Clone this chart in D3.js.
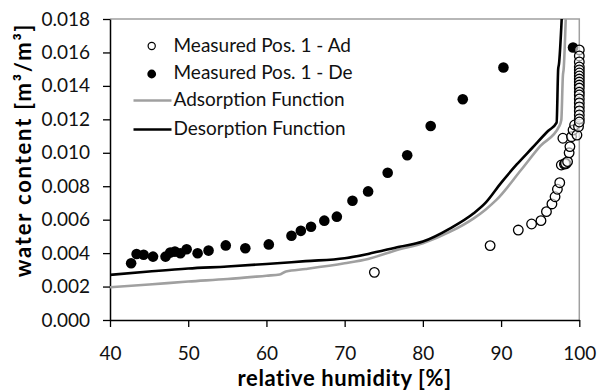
<!DOCTYPE html>
<html><head><meta charset="utf-8">
<script src="https://cdn.jsdelivr.net/npm/d3@7"></script>
<style>body{margin:0;background:#fff}svg{display:block}text{font-family:Lato,"Open Sans",sans-serif}</style>
</head><body><svg id="c" width="598" height="392"></svg>
<script>
// ---- data ----
const adsMeasRH = [73.8, 88.6, 92.2, 93.9, 95.1, 95.8, 96.5, 96.9, 97.2, 97.5, 97.7, 98.1, 98.3, 97.9, 98.2, 98.5, 98.7, 98.8, 99.0, 99.2, 99.4, 99.7, 99.9,
  100, 100, 100, 100, 100, 100, 100, 100, 100, 100, 100, 100, 100, 100, 100, 100, 100, 100, 100, 100];
const adsMeasW = [0.00285, 0.00445, 0.00538, 0.00574, 0.00594, 0.00648, 0.00694, 0.00737, 0.00782, 0.00821, 0.00927, 0.00932, 0.00935, 0.01087, 0.00937, 0.00947, 0.0100, 0.01037, 0.01096, 0.01136, 0.01166, 0.01106, 0.01156,
  0.01615, 0.01579, 0.01543, 0.01513, 0.01495, 0.01477, 0.01459, 0.01441, 0.01423, 0.01405, 0.01387, 0.01363, 0.01346, 0.01322, 0.01298, 0.01274, 0.0125, 0.01226, 0.01202, 0.01184];
const desMeasRH = [42.7, 43.4, 44.3, 45.5, 47.1, 47.7, 48.3, 49.0, 49.8, 51.2, 52.6, 54.8, 57.3, 60.3, 63.2, 64.4, 65.7, 67.4, 69.0, 71.0, 73.0, 75.5, 78.0, 81.0, 85.1, 90.3, 99.2];
const desMeasW = [0.00339, 0.00395, 0.0039, 0.00379, 0.00379, 0.00403, 0.00409, 0.00399, 0.00423, 0.00399, 0.00415, 0.00446, 0.00429, 0.00452, 0.00504, 0.00533, 0.00558, 0.00594, 0.00618, 0.00713, 0.00769, 0.00881, 0.00985, 0.0116, 0.0132, 0.0151, 0.0163];
const adsFnRH = [40, 45, 50, 55, 60, 61.7, 62.5, 65, 70, 73, 77, 80, 83.5, 86.5, 88, 89.4, 92.6, 95, 97.4, 97.7, 97.9, 98.0, 98.3];
const adsFnW = [0.00196, 0.00212, 0.0023, 0.00245, 0.00265, 0.00272, 0.0029, 0.00305, 0.00339, 0.00365, 0.00423, 0.00459, 0.00528, 0.00608, 0.0066, 0.00718, 0.009, 0.0104, 0.01156, 0.01196, 0.0146, 0.015, 0.0185];
const desFnRH = [40, 45, 50, 55, 60, 65, 70, 73, 77, 80, 83.5, 86.5, 88, 90, 92, 94, 96, 97.1, 97.3, 97.4, 97.8];
const desFnW = [0.0027, 0.0029, 0.00308, 0.0032, 0.00335, 0.00352, 0.00369, 0.00395, 0.00438, 0.00469, 0.00548, 0.00638, 0.007, 0.0082, 0.0093, 0.0103, 0.0113, 0.0118, 0.015, 0.0153, 0.0185];
const xTicks = [40, 50, 60, 70, 80, 90, 100];
const yTicks = [0, 0.002, 0.004, 0.006, 0.008, 0.010, 0.012, 0.014, 0.016, 0.018];
const legendLabels = ["Measured Pos. 1 - Ad", "Measured Pos. 1 - De", "Adsorption Function", "Desorption Function"];
const xTitle = "relative humidity [%]";
const yTitle = "water content [m³/m³]";

// ---- layout ----
const L = 110, R = 579.3, T = 19, B = 320;
const svg = d3.select("#c");
const x = d3.scaleLinear().domain([40, 100]).range([L, R]);
const y = d3.scaleLinear().domain([0, 0.018]).range([B, T]);

svg.append("defs").append("clipPath").attr("id", "clip")
  .append("rect").attr("x", L).attr("y", T).attr("width", R - L).attr("height", B - T);

// frame top/right gray
svg.append("path").attr("d", `M${L},${T}H${R}V${B}`).attr("fill", "none").attr("stroke", "#a0a0a0").attr("stroke-width", 1.5);

// axes
const xAxis = svg.append("g").attr("transform", `translate(0,${B})`)
  .call(d3.axisBottom(x).tickValues(xTicks).tickSize(7).tickSizeOuter(0).tickPadding(20));
const yAxis = svg.append("g").attr("transform", `translate(${L},0)`)
  .call(d3.axisLeft(y).tickValues(yTicks).tickFormat(d3.format(".3f")).tickSize(7).tickSizeOuter(0).tickPadding(13));
[xAxis, yAxis].forEach(g => {
  g.select(".domain").attr("stroke", "#000").attr("stroke-width", 1.5);
  g.selectAll(".tick line").attr("stroke", "#000").attr("stroke-width", 1.3);
  g.selectAll(".tick text").attr("fill", "#111").style("font-size", "19px").style("font-family", "Lato");
});

const plot = svg.append("g").attr("clip-path", "url(#clip)");
const line = d3.line().x(d => x(d[0])).y(d => y(d[1])).curve(d3.curveMonotoneX);
plot.append("path").datum(d3.zip(adsFnRH, adsFnW)).attr("d", line)
  .attr("fill", "none").attr("stroke", "#a0a0a0").attr("stroke-width", 2.6);
plot.append("path").datum(d3.zip(desFnRH, desFnW)).attr("d", line)
  .attr("fill", "none").attr("stroke", "#000").attr("stroke-width", 2.6);

const pts = svg.append("g");
pts.selectAll("circle.d").data(d3.zip(desMeasRH, desMeasW)).join("circle").attr("class", "d")
  .attr("cx", d => x(d[0])).attr("cy", d => y(d[1])).attr("r", 5.3).attr("fill", "#000");
pts.selectAll("circle.a").data(d3.zip(adsMeasRH, adsMeasW)).join("circle").attr("class", "a")
  .attr("cx", d => x(d[0])).attr("cy", d => y(d[1])).attr("r", 4.8)
  .attr("fill", "#fff").attr("fill-opacity", 0.6).attr("stroke", "#000").attr("stroke-width", 1.3);

// legend
const lg = svg.append("g");
const rowsY = [45, 72, 99.5, 128];
lg.append("circle").attr("cx", 151.7).attr("cy", rowsY[0] + 1).attr("r", 3.6).attr("fill", "#fff").attr("stroke", "#000").attr("stroke-width", 1.2);
lg.append("circle").attr("cx", 151.7).attr("cy", rowsY[1] + 2).attr("r", 4.4).attr("fill", "#000");
lg.append("line").attr("x1", 133.5).attr("x2", 171.5).attr("y1", rowsY[2] + 1).attr("y2", rowsY[2] + 1).attr("stroke", "#a0a0a0").attr("stroke-width", 2.6);
lg.append("line").attr("x1", 133.5).attr("x2", 171.5).attr("y1", rowsY[3] + 1.5).attr("y2", rowsY[3] + 1.5).attr("stroke", "#000").attr("stroke-width", 2.6);
lg.selectAll("text").data(legendLabels).join("text")
  .attr("x", 173.5).attr("y", (d, i) => rowsY[i] + 6.5)
  .attr("fill", "#111").style("font-size", "19px").text(d => d);

// titles
svg.append("text").attr("x", (L + R) / 2).attr("y", 386).attr("text-anchor", "middle")
  .style("font-size", "22px").style("font-weight", "bold").style("letter-spacing", "0.6px").attr("fill", "#000").text(xTitle);
svg.append("text").attr("transform", "translate(31,150) rotate(-90)").attr("text-anchor", "middle")
  .style("font-size", "22px").style("font-weight", "bold").style("letter-spacing", "1.8px").attr("fill", "#000").text(yTitle);
</script></body></html>
